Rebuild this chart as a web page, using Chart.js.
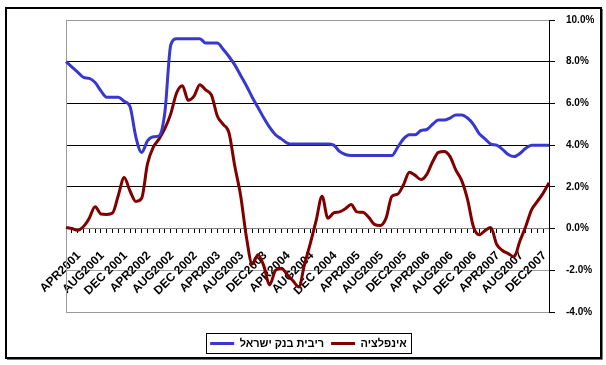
<!DOCTYPE html>
<html>
<head>
<meta charset="utf-8">
<script src="https://cdn.jsdelivr.net/npm/chart.js@4.4.1/dist/chart.umd.min.js"></script>
<style>
html,body{margin:0;padding:0;background:#fff;}
#wrap{width:606px;height:365px;position:relative;}
</style>
</head>
<body>
<div id="wrap"><canvas id="c" width="606" height="365"></canvas></div>
<script>
const categories = [
  'APR2001','MAY2001','JUN2001','JUL2001','AUG2001','SEP2001','OCT2001','NOV2001','DEC 2001',
  'JAN2002','FEB2002','MAR2002','APR2002','MAY2002','JUN2002','JUL2002','AUG2002','SEP2002','OCT2002','NOV2002','DEC 2002',
  'JAN2003','FEB2003','MAR2003','APR2003','MAY2003','JUN2003','JUL2003','AUG2003','SEP2003','OCT2003','NOV2003','DEC2003',
  'JAN2004','FEB2004','MAR2004','APR2004','MAY2004','JUN2004','JUL2004','AUG2004','SEP2004','OCT2004','NOV2004','DEC 2004',
  'JAN2005','FEB2005','MAR2005','APR2005','MAY2005','JUN2005','JUL2005','AUG2005','SEP2005','OCT2005','NOV2005','DEC2005',
  'JAN2006','FEB2006','MAR2006','APR2006','MAY2006','JUN2006','JUL2006','AUG2006','SEP2006','OCT2006','NOV2006','DEC 2006',
  'JAN2007','FEB2007','MAR2007','APR2007','MAY2007','JUN2007','JUL2007','AUG2007','SEP2007','OCT2007','NOV2007','DEC2007',
  'JAN2008','FEB2008','MAR2008'
];

// ריבית בנק ישראל (%)
const boiRate = [
  8.0, 7.75, 7.5, 7.25, 7.2, 7.0, 6.6, 6.3, 6.3,
  6.3, 6.1, 5.85, 4.4, 3.65, 4.2, 4.4, 4.45, 5.6, 8.8, 9.1, 9.1,
  9.1, 9.1, 9.1, 8.9, 8.9, 8.9, 8.6, 8.25, 7.85, 7.35, 6.85, 6.3,
  5.8, 5.3, 4.85, 4.5, 4.3, 4.1, 4.05, 4.05, 4.05, 4.05, 4.05, 4.05,
  4.05, 4.0, 3.7, 3.55, 3.5, 3.5, 3.5, 3.5, 3.5, 3.5, 3.5, 3.5,
  3.9, 4.3, 4.5, 4.5, 4.7, 4.75, 5.0, 5.2, 5.2, 5.3, 5.45, 5.45,
  5.3, 5.0, 4.55, 4.3, 4.05, 4.0, 3.8, 3.55, 3.45, 3.6, 3.85, 4.0,
  4.0, 4.0, 4.0
];

// אינפלציה (%)
const inflation = [
  0.05, 0.0, -0.08, 0.1, 0.5, 1.05, 0.7, 0.68, 0.75,
  1.6, 2.45, 1.8, 1.3, 1.45, 3.1, 3.9, 4.3, 4.8, 5.5, 6.5, 6.85,
  6.15, 6.35, 6.9, 6.65, 6.4, 5.4, 5.0, 4.6, 3.0, 1.6, -0.4, -1.7,
  -1.25, -1.8, -2.7, -2.0, -1.9, -2.2, -2.5, -2.8, -1.7, -0.7, 0.4, 1.55,
  0.5, 0.75, 0.8, 0.95, 1.15, 0.8, 0.78, 0.55, 0.2, 0.15, 0.5, 1.55,
  1.65, 2.1, 2.7, 2.55, 2.35, 2.6, 3.2, 3.65, 3.7, 3.45, 2.8, 2.3,
  1.4, 0.1, -0.3, -0.1, 0.05, -0.75, -1.05, -1.2, -1.35, -0.6, 0.1, 0.9,
  1.3, 1.7, 2.2
];

const seriesNames = ['ריבית בנק ישראל', 'אינפלציה'];
const yTicks = [-4, -2, 0, 2, 4, 6, 8, 10];

const FONT = '"Liberation Sans", Arial, sans-serif';

const framePlugin = {
  id: 'frame',
  beforeDraw(c) {
    const ctx = c.ctx;
    ctx.save();
    ctx.fillStyle = '#fff';
    ctx.fillRect(0, 0, c.width, c.height);
    ctx.restore();
  },
  beforeDatasetsDraw(c) {
    const ctx = c.ctx, a = c.chartArea;
    ctx.save();
    ctx.strokeStyle = '#9a9a9a';
    ctx.lineWidth = 1;
    ctx.beginPath();
    ctx.moveTo(Math.round(a.right), Math.round(a.top) + 0.5);
    ctx.lineTo(Math.round(a.left) + 0.5, Math.round(a.top) + 0.5);
    ctx.lineTo(Math.round(a.left) + 0.5, Math.round(a.bottom) + 0.5);
    ctx.lineTo(Math.round(a.right), Math.round(a.bottom) + 0.5);
    ctx.stroke();
    ctx.restore();
  },
  afterDraw(c) {
    const ctx = c.ctx;
    ctx.save();
    // outer frame
    ctx.strokeStyle = '#000';
    ctx.lineWidth = 2;
    ctx.strokeRect(6, 8, 595, 350);
    ctx.strokeStyle = '#777';
    ctx.lineWidth = 1;
    ctx.beginPath();
    ctx.moveTo(602.5, 9); ctx.lineTo(602.5, 359.5); ctx.lineTo(7, 359.5);
    ctx.stroke();
    // legend box
    const hb = c.legend.legendHitBoxes;
    if (hb && hb.length) {
      let l = Infinity, r = -Infinity, t = Infinity, b = -Infinity;
      hb.forEach(h => { l = Math.min(l, h.left); r = Math.max(r, h.left + h.width); t = Math.min(t, h.top); b = Math.max(b, h.top + h.height); });
      ctx.strokeStyle = '#000';
      ctx.lineWidth = 1;
      ctx.strokeRect(Math.round(l - 4) + 0.5, Math.round(t - 5) + 0.5, Math.round(r - l + 8), Math.round(b - t + 9));
    }
    ctx.restore();
  }
};

const chart = new Chart(document.getElementById('c'), {
  type: 'line',
  data: {
    labels: categories,
    datasets: [
      { label: seriesNames[0], data: boiRate, borderColor: '#3838d0', backgroundColor: '#3838d0',
        borderWidth: 3, pointRadius: 0, cubicInterpolationMode: 'monotone', yAxisID: 'y' },
      { label: seriesNames[1], data: inflation, borderColor: '#800000', backgroundColor: '#800000',
        borderWidth: 3, pointRadius: 0, cubicInterpolationMode: 'monotone', yAxisID: 'y' }
    ]
  },
  options: {
    responsive: false,
    animation: false,
    devicePixelRatio: 1,
    layout: { padding: { left: 23, right: 12, top: 20, bottom: 6 } },
    plugins: {
      tooltip: { enabled: false },
      legend: {
        position: 'bottom',
        title: { display: true, text: ' ', font: { size: 10 }, padding: { top: 0, bottom: 7 } },
        labels: {
          usePointStyle: true,
          pointStyle: 'line',
          pointStyleWidth: 24,
          padding: 7,
          color: '#000',
          font: { family: FONT, size: 11, weight: 'bold' }
        }
      }
    },
    scales: {
      x: {
        type: 'category',
        position: { y: 0 },
        offset: false,
        grid: { drawOnChartArea: false, drawTicks: true, tickLength: 4, color: '#000', lineWidth: 1 },
        border: { display: true, color: '#808080', width: 1 },
        ticks: {
          autoSkip: false, minRotation: 45, maxRotation: 45, padding: 16, labelOffset: 13,
          color: '#000', font: { family: FONT, size: 12, weight: 'bold' },
          callback: (v, i) => (i % 4 === 0 ? categories[i] : '')
        }
      },
      y: {
        position: 'right',
        min: -4, max: 10,
        afterBuildTicks: s => { s.ticks = yTicks.map(v => ({ value: v })); },
        afterFit: s => { s.width = 45; },
        grid: {
          color: ctx => { const v = ctx.tick ? ctx.tick.value : null; return (v > 0 && v < 10) ? '#000' : '#a0a0a0'; },
          tickColor: '#000', tickLength: 6, lineWidth: 1
        },
        border: { display: true, color: '#000', width: 1 },
        ticks: {
          padding: 11, color: '#000', font: { family: FONT, size: 10, weight: 'bold' },
          callback: v => v.toFixed(1) + '%'
        }
      },
      yl: {
        position: 'left',
        display: true,
        afterFit: s => { s.width = 43; },
        grid: { display: false, drawTicks: false },
        border: { display: false },
        ticks: { display: false }
      }
    }
  },
  plugins: [framePlugin]
});
</script>
</body>
</html>
